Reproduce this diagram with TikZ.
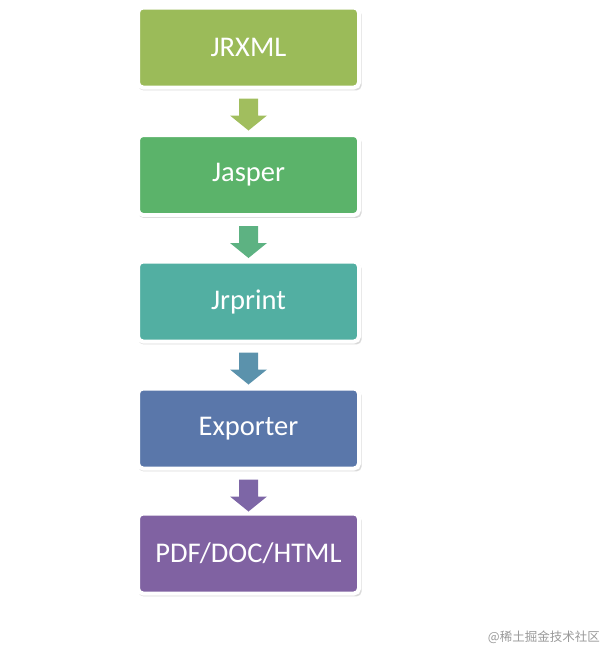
\documentclass[tikz,border=0pt]{standalone}
\usepackage{fontspec}
\setmainfont{Carlito}
\newfontfamily\cjk{Noto Sans CJK SC}
\usetikzlibrary{calc,shadows}
\definecolor{cA}{HTML}{9BBB59}
\definecolor{cB}{HTML}{5BB36A}
\definecolor{cC}{HTML}{52AFA2}
\definecolor{cD}{HTML}{5A77AA}
\definecolor{cE}{HTML}{8062A2}
\definecolor{aA}{HTML}{A1BE5E}
\definecolor{aB}{HTML}{5DB282}
\definecolor{aC}{HTML}{5B92AC}
\definecolor{aD}{HTML}{7D66A6}
\newcommand\blockarrow[3]{%
  \fill[#3] ($(#1.south)+(-9.5,9)$) -- ($(#1.south)+(9.5,9)$) -- ($(#1.south)+(9.5,26)$)
    -- ($(#1.south)+(18.5,26)$) -- ($(#1.south)+(0,41)$) -- ($(#1.south)+(-18.5,26)$)
    -- ($(#1.south)+(-9.5,26)$) -- cycle;}
\begin{document}
\begin{tikzpicture}[x=1pt,y=-1pt,
  stage/.style={draw=white, line width=4pt, rounded corners=5pt, minimum width=221pt,
    minimum height=80pt, text=white, font=\fontsize{28.5}{30}\selectfont, inner sep=0pt,
    drop shadow={opacity=0.3, shadow xshift=1.5pt, shadow yshift=-2.5pt, shadow scale=1.01}}]
\useasboundingbox (0,0) rectangle (606,648);
\node[stage, fill=cA] (jrxml) at (248.5,47.5) {JRXML};
\node[stage, fill=cB] (jasper) at (248.5,175) {Jasper};
\node[stage, fill=cC] (jrprint) at (248.5,301.5) {Jrprint};
\node[stage, fill=cD] (exporter) at (248.5,428.5) {Exporter};
\node[stage, fill=cE] (out) at (248.5,553.5) {PDF/DOC/HTML};
\blockarrow{jrxml}{jasper}{aA}
\blockarrow{jasper}{jrprint}{aB}
\blockarrow{jrprint}{exporter}{aC}
\blockarrow{exporter}{out}{aD}
\node[anchor=east, text=black!40, font=\cjk\fontsize{12.5}{14}\selectfont, inner sep=0pt] (wm) at (600,637) {@稀土掘金技术社区};
\end{tikzpicture}
\end{document}
